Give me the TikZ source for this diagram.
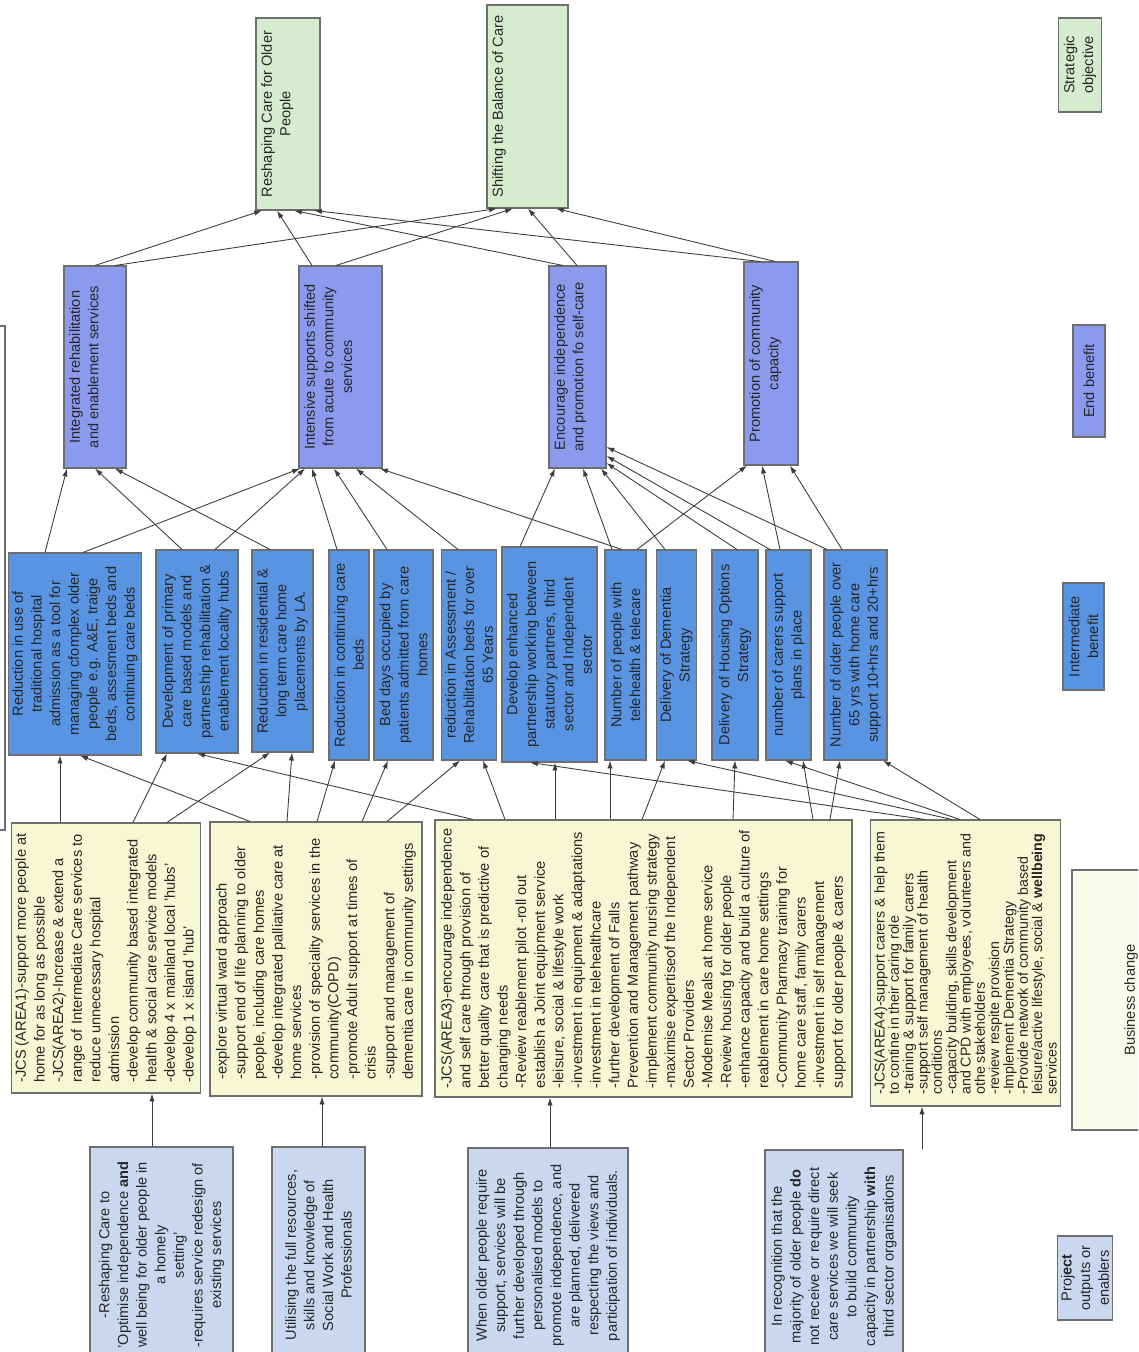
\documentclass[tikz,border=0pt]{standalone}
\usepackage{fontspec}
\setmainfont{Liberation Sans}
\usetikzlibrary{arrows.meta}
\definecolor{l0}{RGB}{110,110,110}
\definecolor{l1}{RGB}{214,236,206}
\definecolor{l2}{RGB}{140,154,238}
\definecolor{l3}{RGB}{88,148,226}
\definecolor{l4}{RGB}{246,247,211}
\definecolor{l5}{RGB}{201,216,238}
\definecolor{l6}{RGB}{252,252,236}
\definecolor{ln}{RGB}{60,60,60}
% text kept at the top of a box (the left side once turned)
\newcommand{\toptext}[3]{\parbox[c][\dimexpr0.2mm*#1-6pt\relax][t]{\dimexpr0.2mm*#2-6pt\relax}{\centering #3}}

\begin{document}
\begin{tikzpicture}[
    x=0.2mm, y=-0.2mm,
    every node/.style={
        rotate=90, text=black!85, inner sep=2pt,
        font=\fontsize{8.3}{10.6}\selectfont
    },
    box/.style={draw=l0, line width=0.6pt},
    sz/.style 2 args={minimum height=#1*0.2mm, minimum width=#2*0.2mm},
    so/.style={box, fill=l1, inner sep=3pt},
    eb/.style={box, fill=l2, inner sep=3pt},
    ib/.style={box, fill=l3, align=center},
    po/.style={box, fill=l4, align=left},
    en/.style={box, fill=l5, align=center},
    ar/.style={
        draw=ln, line width=0.5pt,
        -{Latex[length=4.5pt,width=3pt]}
    }
]
    \clip (0,0) rectangle (1138,1352);

    % strategic objectives
    \node[so, sz={64}{192}] (g1) at (288,114)
        {\toptext{64}{192}{Reshaping Care for Older\\People}};
    \node[so, sz={81}{203}] (g2) at (527.5,106.5)
        {\toptext{81}{203}{Shifting the Balance of Care}};

    % end benefits
    \node[eb, sz={62}{202}] (b1) at (95,367)
        {\toptext{62}{202}{Integrated rehabilitation\\and enablement services}};
    \node[eb, sz={83}{202}] (b2) at (340.5,367)
        {\toptext{83}{202}{Intensive supports shifted\\from acute to community\\services}};
    \node[eb, sz={57}{202}] (b3) at (577.5,367)
        {\toptext{57}{202}{Encourage independence\\and promotion fo self-care}};
    \node[eb, sz={54}{203}] (b4) at (771,363.5)
        {\toptext{54}{203}{Promotion of community\\capacity}};

    % intermediate benefits
    \node[ib, sz={130}{202}] (i1) at (75,654) {Reduction in use of\\traditional hospital\\admission as a tool for\\managing cfomplex older\\people e.g. A\&E, traige\\beds, assesment beds and\\continuing care beds};
    \node[ib, sz={82}{203}] (i2) at (197,651.5) {Development of primary\\care based models and\\partnership rehabilitation \&\\enablement locality hubs};
    \node[ib, sz={61}{202}] (i3) at (282.5,651) {Reduction in residential \&\\long term care home\\placements by LA.};
    \node[ib, sz={40}{210}] (i4) at (349,655) {Reduction in continuing care\\beds};
    \node[ib, sz={59}{210}] (i5) at (403.5,655) {Bed days occupied by\\patients admitted from care\\homes};
    \node[ib, sz={54}{210}] (i6) at (469,655) {reduction in Assessment /\\Rehabilitation beds for over\\65 Years};
    \node[ib, sz={95}{215}] (i7) at (549.5,654.5) {Develop enhanced\\partnership working between\\statutory partners, third\\sector and Independent\\sector};
    \node[ib, sz={41}{210}] (i8) at (625.5,655) {Number of people with\\telehealth \& telecare};
    \node[ib, sz={39}{210}] (i9) at (676.5,655) {Delivery of Dementia\\Strategy};
    \node[ib, sz={46}{210}] (i10) at (735,655) {Delivery of Housing Options\\Strategy};
    \node[ib, sz={45}{210}] (i11) at (788.5,655) {number of carers support\\plans in place};
    \node[ib, sz={63}{210}] (i12) at (855.5,655) {Number of older people over\\65 yrs with home care\\support 10+hrs and 20+hrs};

    % project outputs
    \node[po, sz={188}{270}] (y1) at (106,958) {-JCS (AREA1)-support more people at\\home for as long as possible\\-JCS(AREA2)-Increase \& extend a\\range of Intermediate Care services to\\reduce unnecessary hospital\\admission\\-develop community based integrated\\health \& social care service models\\-develop 4 x mainland local 'hubs'\\-develop 1 x island 'hub'};
    \node[po, sz={212}{274}] (y2) at (316,959) {-explore virtual ward approach\\-support end of life planning to older\\people, including care homes\\-develop integrated palliative care at\\home services\\-provision of speciality services in the\\community(COPD)\\-promote Adult support at times of\\crisis\\-support and management of\\dementia care in community settings};
    \node[po, sz={417}{277}] (y3) at (643.5,958.5) {-JCS(AREA3)-encourage independence\\and self care through provision of\\better quality care that is predictive of\\changing needs\\-Review reablement pilot -roll out\\establish a Joint equipment service\\-leisure, social \& lifestyle work\\-investment in equipment \& adaptations\\-investment in telehealthcare\\-further development of Falls\\Prevention and Management pathway\\-implement community nursing strategy\\-maximise expertiseof the Independent\\Sector Providers\\-Modernise Meals at home service\\-Review housing for older people\\-enhance capacity and build a culture of\\reablement in care home settings\\-Community Pharmacy training for\\home care staff, family carers\\-investment in self management\\support for older people \& carers};
    \node[po, sz={185}{286}, font=\fontsize{8.1}{8.15}\selectfont] (y4) at (965.5,963) {-JCS(AREA4)-support carers \& help them\\to contine in their caring role\\-training \& support for family carers\\-support self management of health\\conditions\\-capacity building, skills development\\and CPD with employees, volunteers and\\othe stakeholders\\-review respite provision\\-Implement Dementia Strategy\\-Provide network of community based\\leisure/active lifestyle, social \& \textbf{wellbeing}\\services};

    % enablers
    \node[en, sz={143}{216}] (e1) at (161.5,1255) {-Reshaping Care to\\'Optimise independence \textbf{and}\\well being for older people in\\a homely\\setting'\\-requires service redesign of\\existing services};
    \node[en, sz={93}{216}] (e2) at (318.5,1255) {Utilising the full resources,\\skills and knowledge of\\Social Work and Health\\Professionals};
    \node[en, sz={160}{215}] (e3) at (548,1255.5) {When older people require\\support, services will be\\further developed through\\personalised models to\\promote independence, and\\are planned, delivered\\respecting the views and\\participation of individuals.};
    \node[en, sz={138}{213}] (e4) at (834,1256.5) {In recognition that the\\majority of older people \textbf{do}\\not receive or require direct\\care services we will seek\\to build community\\capacity in partnership \textbf{with}\\third sector organisations};

    % key
    \node[so, sz={40}{94}, align=center] (kso) at (1080,65) {Strategic\\objective};
    \node[eb, sz={32}{112}] (keb) at (1089,381) {End benefit};
    \node[ib, sz={41}{107}] (kib) at (1083.5,636.5) {Intermediate\\benefit};
    \node[box, fill=l6, sz={118}{260}] (kbc) at (1131,1000) {Business change};
    \node[en, sz={54}{84}] (ken) at (1085,1278) {Proj\textbf{ect}\\outputs or\\enablers};

    \draw[box] (-20,326) rectangle (5,830);

    % enablers to outputs
    \draw[ar] (e1.east -| 152,0) -- (y1.west -| 152,0);
    \draw[ar] (e2.east -| 322,0) -- (y2.west -| 322,0);
    \draw[ar] (e3.east -| 550,0) -- (y3.west -| 550,0);
    \draw[ar] (e4.east -| 922,0) -- (y4.west -| 922,0);

    % outputs to intermediate benefits
    \draw[ar] (y1.east -| 60,0) -- (i1.west -| 60,0);
    \draw[ar] (y1.east -| 133,0) -- (i2.west -| 167,0);
    \draw[ar] (y1.east -| 167,0) -- (i3.west -| 270,0);
    \draw[ar] (y2.east -| 250,0) -- (i1.west -| 80,0);
    \draw[ar] (y2.east -| 287,0) -- (i3.west -| 292,0);
    \draw[ar] (y2.east -| 317,0) -- (i4.west -| 335,0);
    \draw[ar] (y2.east -| 362,0) -- (i5.west -| 388,0);
    \draw[ar] (y2.east -| 387,0) -- (i6.west -| 460,0);
    \draw[ar] (y3.east -| 473,0) -- (i2.west -| 197,0);
    \draw[ar] (y3.east -| 505,0) -- (i6.west -| 483,0);
    \draw[ar] (y3.east -| 555,0) -- (i7.west -| 555,0);
    \draw[ar] (y3.east -| 610,0) -- (i8.west -| 610,0);
    \draw[ar] (y3.east -| 642,0) -- (i9.west -| 665,0);
    \draw[ar] (y3.east -| 733,0) -- (i10.west -| 735,0);
    \draw[ar] (y3.east -| 813,0) -- (i11.west -| 803,0);
    \draw[ar] (y3.east -| 830,0) -- (i12.west -| 840,0);
    \draw[ar] (y4.east -| 925,0) -- (i7.west -| 530,0);
    \draw[ar] (y4.east -| 952,0) -- (i9.west -| 687,0);
    \draw[ar] (y4.east -| 960,0) -- (i11.west -| 785,0);
    \draw[ar] (y4.east -| 980,0) -- (i12.west -| 883,0);

    % intermediate to end benefits
    \draw[ar] (i1.east -| 45,0) -- (b1.west -| 67,0);
    \draw[ar] (i1.east -| 83,0) -- (b2.west -| 300,0);
    \draw[ar] (i2.east -| 182,0) -- (b1.west -| 95,0);
    \draw[ar] (i2.east -| 215,0) -- (b2.west -| 305,0);
    \draw[ar] (i3.east -| 270,0) -- (b1.west -| 115,0);
    \draw[ar] (i4.east -| 337,0) -- (b2.west -| 312,0);
    \draw[ar] (i5.east -| 387,0) -- (b2.west -| 334,0);
    \draw[ar] (i6.east -| 458,0) -- (b2.west -| 356,0);
    \draw[ar] (i7.east -| 520,0) -- (b3.west -| 555,0);
    \draw[ar] (i8.east -| 612,0) -- (b3.west -| 583,0);
    \draw[ar] (i8.east -| 622,0) -- (b2.west -| 380,0);
    \draw[ar] (i8.east -| 637,0) -- (b4.west -| 747,0);
    \draw[ar] (i9.east -| 665,0) -- (b3.west -| 601,0);
    \draw[ar] (i10.east -| 737,0) -- (b3.south |- 0,463);
    \draw[ar] (i11.east -| 770,0) -- (b3.south |- 0,456);
    \draw[ar] (i11.east -| 780,0) -- (b4.west -| 762,0);
    \draw[ar] (i12.east -| 827,0) -- (b3.south |- 0,447);
    \draw[ar] (i12.east -| 842,0) -- (b4.west -| 790,0);

    % end benefits to objectives
    \draw[ar] (b1.east -| 95,0) -- (g1.west -| 262,0);
    \draw[ar] (b1.east -| 115,0) -- (g2.west -| 497,0);
    \draw[ar] (b2.east -| 312,0) -- (g1.west -| 277,0);
    \draw[ar] (b2.east -| 336,0) -- (g2.west -| 513,0);
    \draw[ar] (b3.east -| 563,0) -- (g1.west -| 294,0);
    \draw[ar] (b3.east -| 577,0) -- (g2.west -| 528,0);
    \draw[ar] (b4.east -| 760,0) -- (g1.west -| 314,0);
    \draw[ar] (b4.east -| 775,0) -- (g2.west -| 556,0);
\end{tikzpicture}
\end{document}
